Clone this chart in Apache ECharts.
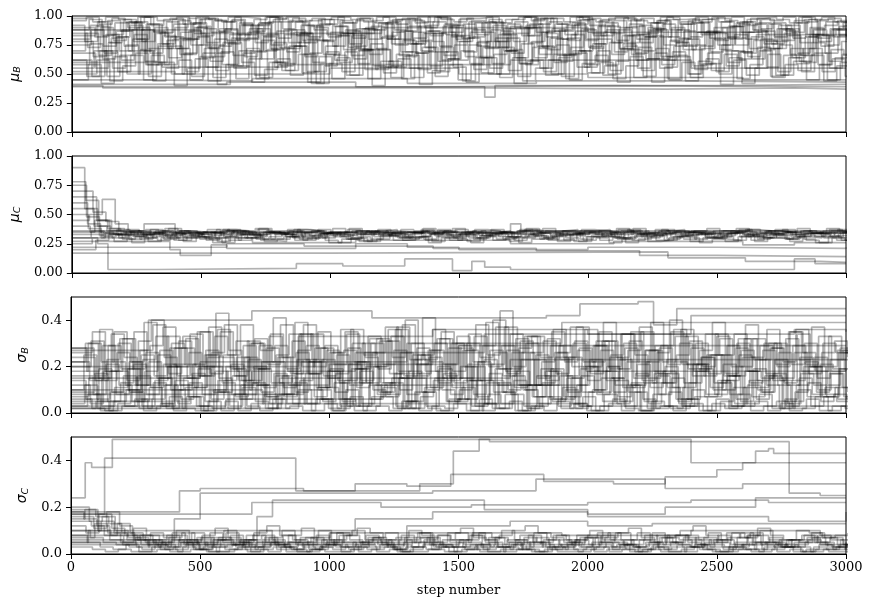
<!DOCTYPE html>
<html><head><meta charset="utf-8">
<script src="https://cdn.jsdelivr.net/npm/echarts/dist/echarts.min.js"></script>
<style>html,body{margin:0;padding:0;background:#fff}#c{width:873px;height:607px}</style>
</head><body><div id="c"></div>
<script>
// sampling interval (steps) of the mixing-walker value lists
const STEP_INTERVAL = 50;
const X_MIN = 0, X_MAX = 3000, X_INTERVAL = 500;
const PANEL_NAMES = [['μ','B'],['μ','C'],['σ','B'],['σ','C']];
const Y_MAX = [1, 1, 0.5, 0.5];
const Y_INTERVAL = [0.25, 0.25, 0.2, 0.2];

// ---- mu_B (values x100, one value every STEP_INTERVAL steps) ----
const muB_mix = [
[92,78,95,84,97,80,93,76,90,98, 83,96,79,94,87,99,81,95,77,92, 97,85,96,80,93,88,98,79,95,84, 97,82,94,78,91,99,86,95,80,93, 98,83,96,77,92,89,97,81,94,85, 98,80,95,87,93,79,96,84,97,82, 90],
[70,85,66,81,74,90,68,83,72,87, 64,80,76,92,69,84,73,88,65,79, 86,71,89,67,82,75,91,70,85,63, 78,88,72,84,68,90,74,81,66,87, 73,92,69,83,77,89,65,80,71,86, 75,91,68,84,72,88,66,82,74,89, 79],
[96,99,93,98,95,99,92,97,99,94, 98,96,99,93,97,99,95,98,92,97, 99,94,98,96,99,93,97,95,99,92, 98,96,99,94,97,99,93,98,95,99, 92,97,99,96,98,94,99,93,97,98, 95,99,92,98,96,99,94,97,99,95, 97],
[62,48,70,55,75,50,66,58,72,45, 68,53,77,60,49,71,57,74,52,65, 46,69,59,76,51,67,55,73,48,63, 70,54,78,47,64,58,72,50,67,56, 74,49,61,71,53,68,46,75,57,63, 50,70,55,73,48,66,59,72,52,64, 58],
[85,73,90,79,94,71,87,82,96,75, 89,68,84,92,77,95,72,86,80,93, 74,88,70,91,83,97,76,85,69,90, 81,94,73,87,78,92,67,89,84,96, 72,86,79,93,70,88,82,95,75,87, 71,91,80,94,76,85,68,90,83,88, 86],
[45,58,42,65,50,70,44,55,62,48, 72,41,57,68,46,60,53,74,43,59, 66,49,71,40,56,63,47,69,52,58, 44,64,50,73,42,61,55,67,46,70, 51,57,43,65,48,72,45,60,54,68, 41,62,49,70,47,58,53,66,44,57, 50],
[88,97,83,94,90,99,86,95,81,93, 98,87,96,84,92,99,89,95,82,97, 91,85,98,88,94,80,96,90,99,86, 93,84,97,89,95,83,98,87,92,99, 85,94,90,97,82,96,88,93,99,86, 95,81,97,89,94,87,99,84,92,96, 90],
[58,76,63,82,70,88,60,79,67,85, 56,74,81,65,89,72,59,84,68,78, 62,87,71,57,80,66,86,73,61,83, 69,77,55,85,64,90,74,60,81,70, 76,58,88,67,82,63,79,71,86,59, 75,84,65,80,72,89,61,77,68,83, 73],
[80,92,74,87,95,78,90,72,86,94, 77,89,97,81,93,75,88,83,96,79, 91,73,85,94,80,87,76,92,98,82, 89,74,95,84,90,77,86,93,79,97, 83,88,72,91,85,96,78,87,94,81, 90,75,86,97,82,92,77,89,95,84, 88],
[75,88,68,82,92,70,85,64,79,90, 73,86,66,80,94,71,84,77,91,67, 83,76,89,72,95,69,81,87,74,92, 65,78,88,70,85,93,73,80,67,89, 76,91,71,84,63,82,90,74,86,69, 81,94,72,87,78,83,66,88,75,91, 80],
[62,48,70,52,66,45,58,74,50,63, 44,69,55,72,47,60,53,67,42,57, 64,49,71,54,61,46,68,51,73,56, 43,65,59,70,48,62,52,75,45,59, 66,50,72,47,63,55,69,44,61,53, 67,46,58,71,49,64,52,68,45,60, 54],
[98,95,99,97,94,99,96,98,93,99, 97,95,99,98,94,97,99,96,98,93, 99,97,95,99,96,98,94,99,97,95, 98,99,94,97,99,96,98,93,99,97, 95,98,99,96,94,99,97,98,95,99, 96,93,98,99,97,94,99,96,98,95, 97],
[78,65,84,70,88,61,76,82,67,90, 72,58,80,86,63,77,69,85,60,74, 83,66,89,71,57,79,68,87,62,75, 81,64,92,70,59,78,85,66,73,88, 61,77,83,68,90,65,74,80,58,86, 70,63,82,76,89,67,72,84,61,78, 75],
[55,70,48,66,80,58,74,50,68,82, 61,77,46,63,79,56,72,85,52,69, 60,83,54,71,47,65,78,57,86,62, 75,51,67,81,59,73,49,64,84,56, 70,53,76,62,88,58,66,50,74,80, 57,69,63,78,52,72,60,83,55,67, 64],
[90,82,96,87,78,93,85,97,80,91, 86,95,79,89,83,98,77,92,88,84, 96,81,90,94,76,87,99,83,91,80, 95,86,78,93,89,97,82,88,94,79, 91,85,98,80,87,93,77,96,84,90, 82,95,88,79,92,86,97,81,89,94, 87],
[68,55,77,62,84,58,72,80,52,75, 65,88,57,70,82,60,74,51,79,67, 85,63,71,56,86,69,54,78,66,83, 59,73,81,53,76,64,87,61,70,58, 80,67,74,55,83,62,77,50,72,85, 60,69,79,56,75,64,82,58,71,66, 73],
[83,91,77,88,95,72,86,93,80,97, 75,89,84,92,70,87,96,79,90,82, 94,74,88,81,97,76,91,85,93,78, 86,95,73,89,83,98,71,87,92,80, 96,77,90,84,94,75,88,82,97,79, 91,86,93,72,89,81,95,78,88,92, 85],
[50,62,44,57,68,48,60,40,55,65, 47,58,70,43,54,63,49,67,42,59, 52,72,46,61,56,66,41,53,69,45, 58,64,50,71,44,55,62,48,68,51, 60,46,57,73,43,56,65,47,59,52, 64,42,55,67,49,61,45,58,63,48, 54]
];
// [step, value x100] change points of slowly moving walkers
const muB_stuck = [
[[0,40],[120,38],[900,38],[1600,37],[2300,38],[2800,37],[3000,37]],
[[0,39],[300,39],[1400,40],[2100,39],[3000,39]],
[[0,45],[250,44],[700,46],[1300,42],[1800,44],[2400,43],[3000,43]],
[[0,52],[400,50],[1000,55],[1500,50],[2000,47],[2600,45],[3000,45]],
[[0,88],[500,85],[1200,90],[2000,86],[2700,84],[3000,84]],
[[0,60],[350,56],[800,58],[1700,62],[2400,55],[3000,55]],
[[0,41],[600,43],[1100,39],[1600,30],[1640,40],[2500,41],[3000,41]]
];

// ---- mu_C ----
const muC_mix = [
[90,55,40,36,34,35,33,36,34,35, 33,34,36,35,33,34,35,36,34,33, 35,34,36,35,34,33,35,36,34,35, 33,34,35,36,34,33,35,34,36,35, 34,33,35,36,34,35,33,34,36,35, 34,35,33,34,36,35,34,33,35,34, 35],
[78,62,45,38,35,33,37,32,36,34, 31,35,37,33,32,36,34,31,35,37, 33,32,36,34,35,31,33,37,35,32, 34,36,33,31,35,37,34,32,36,33, 35,31,34,37,33,32,36,35,34,31, 33,36,35,32,34,37,33,35,32,34, 36],
[75,48,32,30,33,36,31,29,34,32, 35,30,28,33,31,34,36,30,29,33, 32,35,31,29,34,33,30,36,32,31, 34,29,33,35,30,32,34,31,28,33, 35,32,30,34,31,33,29,32,35,30, 31,34,32,29,33,35,31,30,34,32, 33],
[60,42,35,33,37,35,34,38,36,33, 35,37,34,36,38,35,33,37,36,34, 38,35,33,36,37,35,34,38,36,33, 35,37,36,34,33,38,35,36,37,34, 33,35,38,36,34,37,35,33,36,38, 34,35,37,36,33,35,38,34,36,35, 37],
[50,38,30,27,32,29,34,31,28,33, 30,27,32,35,29,31,33,28,30,34, 31,29,27,33,32,30,34,29,31,28, 33,30,32,35,28,31,29,33,30,27, 32,34,29,31,33,28,30,32,29,34, 31,28,33,30,32,29,31,34,30,28, 32],
[45,50,63,42,36,33,35,34,36,35, 34,33,36,35,37,34,33,35,36,34, 35,37,33,34,36,35,34,33,37,35, 36,34,33,35,36,37,34,35,33,36, 35,34,37,33,35,36,34,35,33,34, 36,35,37,34,33,35,36,34,35,37, 36],
[40,35,31,33,29,32,34,30,33,31, 28,32,35,30,33,29,31,34,32,30, 33,29,35,31,32,30,34,28,33,31, 32,30,34,29,31,33,30,32,35,29, 31,33,30,28,32,34,31,29,33,30, 32,35,31,30,33,29,32,31,34,30, 31],
[30,36,34,37,35,33,36,38,34,35, 37,33,36,34,38,35,33,37,36,34, 35,38,34,36,33,37,35,34,36,38, 33,35,37,34,36,35,38,33,34,37, 36,35,33,38,34,36,37,35,34,33, 36,38,35,34,37,33,36,35,38,34, 37],
[25,30,34,32,36,30,33,35,31,34, 32,36,33,30,35,34,31,33,36,32, 34,30,33,35,32,31,36,34,33,30, 35,32,34,31,36,33,30,34,32,35, 33,31,36,34,30,33,35,32,34,31, 33,36,32,30,34,35,33,31,32,36, 34],
[70,52,44,30,26,30,28,32,27,31, 29,26,30,33,28,27,31,29,32,28, 26,30,27,29,33,28,31,26,30,29, 27,32,28,30,26,29,31,27,33,28, 30,26,29,32,27,28,31,30,26,29, 27,31,28,33,30,27,29,26,31,28, 30],
[55,40,36,35,34,37,35,33,36,34, 35,37,36,34,35,33,37,35,36,34, 33,36,35,37,34,35,36,33,35,37, 34,36,35,33,37,34,36,35,34,36, 37,33,35,36,34,37,35,34,33,36, 35,37,34,36,35,33,36,34,37,35, 36],
[35,45,38,33,31,35,32,34,30,33, 35,31,34,32,29,33,35,32,30,34, 31,33,35,32,34,30,31,33,35,32, 30,34,33,31,35,32,29,33,34,31, 32,35,30,33,31,34,32,35,33,30, 34,31,33,35,32,30,34,33,31,35, 33],
[20,28,33,35,32,34,36,33,35,31, 34,36,33,32,35,34,36,31,33,35, 32,34,36,33,35,31,32,34,36,33, 35,32,34,31,33,36,35,32,34,33, 36,31,35,33,32,34,36,33,35,32, 34,33,31,36,35,32,34,33,36,35, 33],
[65,45,33,29,31,27,30,28,32,29, 26,31,28,30,27,29,32,28,31,26, 29,30,27,32,28,29,31,27,30,28, 26,31,29,27,30,32,28,29,27,31, 28,30,26,29,32,28,31,27,30,29, 28,32,27,30,29,31,28,26,30,28, 29]
];
const muC_stuck = [
[[0,17],[1000,18],[2310,13],[2610,10],[2900,9],[3000,9]],
[[0,30],[100,25],[140,3],[330,4],[870,8],[1050,6],[1290,12],[1475,2],[1550,10],[1600,5],[1700,3],[2780,3],[2800,12],[2880,8],[3000,8]],
[[0,27],[380,20],[420,15],[540,24],[600,21],[1100,25],[1300,22],[1500,20],[2000,22],[2500,21],[3000,22]],
[[0,22],[600,25],[900,23],[1400,21],[1800,19],[2200,15],[2500,14],[3000,14]],
[[0,33],[400,30],[700,26],[1100,28],[1700,25],[2100,27],[2600,24],[2800,26],[3000,26]],
[[0,36],[280,42],[400,35],[1700,42],[1740,36],[3000,36]]
];

// ---- sigma_B ----
const sigB_mix = [
[10,25,6,18,32,12,22,4,28,15, 35,9,20,14,30,7,24,17,38,11, 26,5,19,33,13,27,8,21,36,16, 29,3,23,12,34,10,25,18,6,31, 14,27,9,22,37,13,20,5,28,16, 33,8,24,11,30,15,26,7,21,19, 18],
[4,12,2,9,16,5,11,3,14,7, 1,10,18,6,13,2,8,15,4,11, 19,6,3,12,9,17,2,7,14,5, 10,20,4,13,8,3,16,6,11,2, 9,15,5,12,1,8,17,4,10,7, 14,3,11,6,16,2,9,13,5,8, 6],
[22,30,15,34,24,12,29,37,20,26, 16,33,25,38,19,28,13,31,23,35, 18,27,11,32,21,36,17,25,30,14, 28,22,39,19,26,33,15,29,24,37, 20,31,12,27,35,18,23,30,16,34, 25,20,32,14,28,22,36,17,26,31, 24],
[14,6,19,9,3,16,11,21,5,13, 8,18,2,12,20,7,15,4,17,10, 1,14,22,6,11,3,18,9,15,5, 20,8,13,2,16,10,4,19,7,12, 23,5,14,9,1,17,11,6,21,8, 13,3,18,10,15,5,12,20,7,11, 9],
[28,18,36,22,12,31,40,24,16,34, 20,43,27,14,32,21,38,17,29,11, 26,35,19,30,13,37,23,41,18,28, 15,33,25,44,20,30,12,35,22,27, 17,39,24,31,14,29,21,36,18,25, 32,16,38,23,28,13,34,20,30,26, 24],
[3,8,1,5,10,2,6,12,4,7, 1,9,3,11,5,2,8,13,4,6, 1,10,3,7,12,2,5,9,1,6, 11,3,8,4,14,2,7,5,10,3, 1,8,4,12,6,2,9,3,7,1, 5,11,4,8,2,6,10,3,7,5, 4],
[18,30,22,35,14,27,38,20,31,16, 25,36,19,29,12,33,24,39,17,28, 21,34,13,26,37,18,30,23,32,15, 27,38,20,29,11,33,24,36,16,28, 22,31,19,35,13,26,40,21,30,17, 25,34,18,29,14,32,23,37,20,27, 22],
[7,15,3,11,19,6,13,2,10,17, 5,14,21,8,12,4,16,9,22,6, 13,3,18,10,7,15,2,11,20,8, 14,4,17,9,1,12,19,6,15,3, 10,18,7,13,5,16,2,11,21,7, 14,4,12,9,17,3,15,8,11,6, 10],
[22,14,29,18,10,25,16,33,12,21, 27,15,8,24,19,34,11,26,17,23, 9,28,14,20,31,10,25,18,13,30, 20,7,27,16,32,12,22,26,9,19, 29,14,23,11,27,17,35,13,21,25, 10,28,18,15,30,12,24,20,8,26, 19],
[12,4,18,8,22,3,14,20,6,11, 25,9,16,2,19,13,7,23,10,5, 17,21,4,12,8,26,15,3,19,11, 6,22,14,9,18,2,13,24,7,16, 10,20,5,12,27,8,15,3,18,11, 21,6,14,9,23,4,17,12,7,19, 13],
[20,31,14,26,9,23,33,17,28,11, 24,35,19,13,29,22,8,27,34,16, 25,12,30,20,36,15,23,10,32,18, 27,14,21,37,12,26,31,17,24,9, 29,20,34,15,22,28,11,33,19,25, 16,30,13,27,21,35,18,24,12,28, 20],
[6,2,1,4,9,1,3,7,2,1, 5,1,8,3,1,6,2,10,1,4, 2,7,1,3,1,5,9,2,1,4, 1,6,2,8,1,3,1,5,2,7, 1,4,1,9,2,3,1,6,1,4, 2,8,1,3,5,1,2,7,1,3, 2],
[26,35,18,30,22,39,15,28,33,20, 37,24,16,31,27,41,19,34,23,29, 14,36,25,32,17,38,21,27,35,13, 30,24,40,18,28,33,16,26,37,22, 31,19,34,25,15,29,36,21,27,39, 17,32,24,30,20,35,26,18,33,23, 28],
[16,8,21,12,5,18,25,10,15,3, 20,13,7,23,9,17,4,14,22,11, 6,19,26,8,13,2,16,24,10,5, 21,14,9,27,12,7,18,3,15,20, 8,24,11,17,4,13,22,6,19,10, 14,25,7,16,12,5,20,9,17,11, 13],
[28,16,23,32,19,26,12,30,21,35, 17,25,31,14,22,29,18,34,20,27, 13,30,24,19,33,16,28,22,15,30, 34,21,26,17,31,23,14,29,20,36, 18,25,30,16,27,22,33,19,24,13, 29,20,32,17,26,21,30,15,23,27, 22],
[9,17,5,13,21,8,15,2,11,19, 6,14,24,10,4,16,12,22,7,18, 3,13,20,9,15,5,25,11,17,6, 14,1,19,10,23,7,12,16,4,20, 9,15,3,21,11,18,6,13,24,8, 16,5,19,12,2,14,22,10,17,7, 12],
[24,14,29,19,35,12,27,21,32,16, 26,38,18,30,11,25,34,20,28,15, 36,22,13,31,24,40,17,27,21,33, 14,29,37,19,26,12,32,23,30,18, 35,15,28,22,39,13,25,31,20,34, 16,27,23,36,14,29,21,33,18,26, 22],
[2,5,1,3,6,2,4,1,7,3, 2,5,1,4,8,2,3,1,6,2, 4,1,3,7,2,5,1,3,2,6, 1,4,2,5,1,3,7,2,4,1, 3,6,2,1,5,3,2,4,1,6, 2,3,5,1,4,2,6,1,3,2, 3]
];
const sigB_stuck = [
[[0,27],[300,40],[700,44],[1165,41],[1840,42],[1970,47],[2195,48],[2255,38],[2345,45],[3000,45]],
[[0,20],[880,33],[1400,36],[2000,34],[2400,42],[3000,42]],
[[0,15],[500,22],[1300,30],[1900,39],[3000,39]],
[[0,10],[700,18],[1100,26],[1600,34],[2800,36],[3000,35]],
[[0,5],[400,12],[1000,21],[1500,29],[3000,29]],
[[0,8],[900,15],[1700,23],[3000,23]],
[[0,3],[600,6],[1200,12],[2000,18],[3000,18]],
[[0,2],[800,4],[2000,3],[3000,3]]
];

// ---- sigma_C ----
const sigC_mix = [
[18,15,12,6,4,7,3,5,8,4, 2,6,9,5,3,7,4,2,5,8, 6,3,4,7,5,2,6,9,4,3, 5,8,6,3,2,5,7,4,3,6, 8,5,3,2,6,9,5,4,3,7, 5,2,4,8,6,3,5,7,4,2, 5],
[15,19,10,8,5,3,6,4,2,5, 7,3,4,6,8,5,3,2,4,7, 9,5,3,6,4,2,5,7,3,4, 6,9,5,3,4,7,5,2,3,6, 4,8,5,3,2,4,7,6,3,5, 8,4,2,5,7,3,4,6,5,3, 4],
[12,9,17,11,8,6,9,7,10,6, 8,11,7,5,9,12,8,6,7,10, 5,8,11,9,6,7,10,8,5,9, 11,7,6,8,10,12,9,7,5,8, 10,6,9,11,7,5,8,10,12,8, 6,9,7,11,8,6,10,9,7,8, 9],
[8,5,3,2,4,1,3,2,1,2, 3,1,2,4,2,1,3,2,1,3, 2,4,1,2,3,1,2,4,3,1, 2,3,1,2,4,2,1,3,2,1, 2,3,4,1,2,3,1,2,4,2, 1,3,2,1,2,4,3,1,2,3, 2],
[5,10,14,9,6,8,5,3,6,9, 4,6,8,3,5,7,10,6,4,3, 6,8,5,7,9,4,3,6,8,5, 3,4,7,10,6,4,5,8,6,3, 5,7,9,4,6,8,5,3,7,9, 6,4,8,10,5,3,6,9,7,4, 6],
[20,14,16,10,7,4,6,8,5,3, 5,7,4,6,3,5,8,4,2,6, 4,3,5,7,4,6,3,5,8,6, 4,2,5,3,6,8,4,3,5,7, 3,5,4,6,8,3,5,7,4,6, 3,5,8,4,3,6,5,7,4,3, 5],
[10,7,5,4,3,2,4,3,5,2, 1,3,4,2,3,5,3,1,2,4, 3,2,4,5,3,1,3,2,4,3, 2,4,3,1,2,5,3,2,4,3, 1,2,4,3,5,2,3,1,4,3, 2,3,5,2,4,3,1,3,2,4, 3],
[14,12,8,13,9,6,4,7,9,5, 3,6,4,8,10,6,3,5,7,4, 9,6,4,3,6,8,5,7,4,3, 6,9,7,4,5,3,6,8,5,4, 7,9,6,3,4,7,5,8,6,4, 3,7,9,5,4,6,8,5,3,6, 7],
[3,2,1,2,1,1,2,1,3,2, 1,1,2,1,2,3,1,1,2,1, 1,2,3,1,2,1,1,2,3,1, 2,1,1,3,2,1,2,1,1,2, 3,1,2,1,2,1,1,3,2,1, 1,2,1,3,1,2,1,2,1,1, 2],
[16,11,18,12,8,5,3,6,4,7, 9,5,3,6,8,4,5,7,3,5, 8,10,6,4,3,5,7,4,6,9, 5,3,4,6,8,5,3,6,4,7, 9,6,4,3,5,7,8,5,4,6, 9,7,4,5,3,6,8,5,7,4, 6],
[7,13,9,5,11,8,5,9,6,4, 7,10,5,3,6,4,8,11,6,4, 3,5,8,6,4,7,9,5,3,6, 8,4,7,5,3,9,6,4,5,7, 4,3,6,9,5,4,8,6,3,5, 7,9,5,4,6,3,5,8,6,4, 5],
[19,16,13,9,6,4,2,3,5,2, 4,2,3,1,4,2,5,3,2,4, 1,3,2,4,2,3,5,2,1,3, 4,2,3,5,2,1,3,4,2,3, 5,2,4,1,3,2,4,3,2,1, 3,4,2,5,3,1,2,4,3,2, 3]
];
const sigC_stuck = [
[[0,24],[55,39],[80,37],[160,49],[2400,39],[2650,44],[2700,45],[2720,43],[3000,43]],
[[0,17],[130,41],[870,27],[1350,30],[1480,44],[1580,49],[1620,48],[2780,26],[2900,25],[3000,25]],
[[0,18],[420,27],[500,28],[900,27],[1100,30],[1300,29],[1470,34],[1700,34],[1830,31],[2100,30],[2300,33],[2500,36],[2600,39],[3000,39]],
[[0,17],[700,22],[1200,20],[1550,21],[2000,22],[2400,23],[2700,22],[3000,22]],
[[0,8],[400,15],[500,26],[1400,27],[1800,32],[2300,28],[2600,30],[3000,30]],
[[0,6],[720,16],[780,23],[1600,19],[2000,17],[2300,20],[2650,24],[3000,24]],
[[0,5],[1300,12],[1700,14],[2000,12],[2250,13],[3000,13]],
[[0,4],[1000,9],[1900,8],[2400,10],[2900,8],[3000,8]],
[[0,10],[1100,15],[1400,18],[2000,16],[2700,14],[3000,18]]
];

const MIX = [muB_mix, muC_mix, sigB_mix, sigC_mix];
const STUCK = [muB_stuck, muC_stuck, sigB_stuck, sigC_stuck];

const FONT = "'DejaVu Serif', serif";
const GRID_TOPS = [16, 156, 297, 437];
const GRID_H = [116, 117, 116, 117];
const NAME_GAPS = [48, 48, 38, 38];

const grids = [], xAxes = [], yAxes = [], series = [];
const lineStyle = {color: 'rgba(0,0,0,0.3)', width: 1.7};
for (let g = 0; g < 4; g++) {
  grids.push({left: 71, top: GRID_TOPS[g], width: 775, height: GRID_H[g], show: true, borderColor: '#000', borderWidth: 1, backgroundColor: 'transparent', z: 5});
  const last = g === 3;
  xAxes.push({
    type: 'value', gridIndex: g, min: X_MIN, max: X_MAX, interval: X_INTERVAL,
    axisLine: {show: true, lineStyle: {color: '#000', width: 1}},
    axisTick: {show: true, inside: false, length: 5, lineStyle: {color: '#000', width: 1}},
    axisLabel: {show: last, color: '#000', fontFamily: FONT, fontSize: 13, margin: 7, formatter: v => String(v)},
    splitLine: {show: false},
    name: last ? 'step number' : '', nameLocation: 'middle', nameGap: 30,
    nameTextStyle: {color: '#000', fontFamily: FONT, fontSize: 13}
  });
  const dec = Y_MAX[g] === 1 ? 2 : 1;
  yAxes.push({
    type: 'value', gridIndex: g, min: 0, max: Y_MAX[g], interval: Y_INTERVAL[g],
    axisLine: {show: true, lineStyle: {color: '#000', width: 1}},
    axisTick: {show: true, inside: false, length: 5, lineStyle: {color: '#000', width: 1}},
    axisLabel: {color: '#000', fontFamily: FONT, fontSize: 13, margin: 9, showMaxLabel: Y_MAX[g] === 1,
      formatter: v => v.toFixed(dec)},
    splitLine: {show: false},
    name: '{i|' + PANEL_NAMES[g][0] + '}{s|' + PANEL_NAMES[g][1] + '}',
    nameLocation: 'middle', nameRotate: 90, nameGap: NAME_GAPS[g],
    nameTextStyle: {color: '#000', rich: {
      i: {fontFamily: 'DejaVu Sans', fontStyle: 'italic', fontSize: 14, color: '#000'},
      s: {fontFamily: 'DejaVu Sans', fontStyle: 'italic', fontSize: 9.5, color: '#000', padding: [6, 0, 0, 0]}
    }}
  });
  const n = MIX[g].length;
  MIX[g].forEach((w, k) => {
    // stagger each walker's sampling phase so jumps of different walkers do not line up
    const phase = Math.round(k * STEP_INTERVAL / n);
    series.push({
      type: 'line', xAxisIndex: g, yAxisIndex: g, step: 'end', symbol: 'none', silent: true,
      lineStyle: lineStyle, data: w.map((v, i) => [i === 0 ? 0 : i * STEP_INTERVAL + phase, v / 100])
    });
  });
  STUCK[g].forEach(w => series.push({
    type: 'line', xAxisIndex: g, yAxisIndex: g, step: 'end', symbol: 'none', silent: true,
    lineStyle: lineStyle, data: w.map(p => [p[0], p[1] / 100])
  }));
}

const chart = echarts.init(document.getElementById('c'), null, {renderer: 'canvas'});
chart.setOption({animation: false, backgroundColor: '#fff', grid: grids, xAxis: xAxes, yAxis: yAxes, series: series});
</script></body></html>
